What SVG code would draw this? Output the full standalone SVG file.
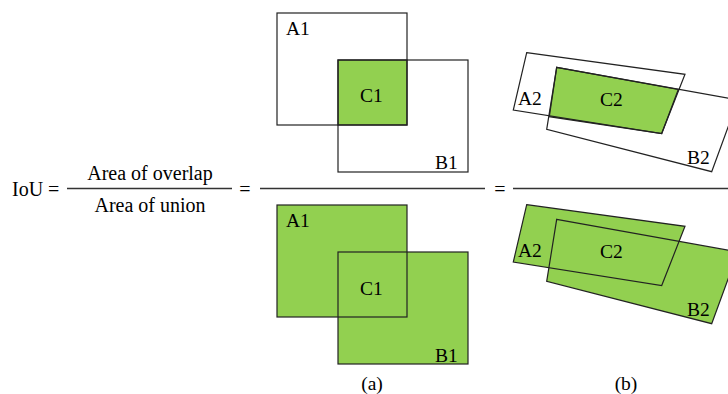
<svg xmlns="http://www.w3.org/2000/svg" width="728" height="394" viewBox="0 0 728 394">
<style>
text{font-family:"Liberation Serif","Times New Roman",serif;font-size:19.5px;fill:#000}
.eq{font-size:20px}
.line{stroke:#333;stroke-width:1.3;fill:none}
.g{fill:#92d050}
.o{fill:none;stroke:#222;stroke-width:1.2}
.gs{fill:#92d050;stroke:#222;stroke-width:1.2}
</style>
<g id="formula">
<text class="eq" x="12" y="196">IoU =</text>
<text class="eq" x="150" y="180" text-anchor="middle">Area of overlap</text>
<text class="eq" x="150" y="212" text-anchor="middle">Area of union</text>
<line class="line" x1="67" y1="188.5" x2="232" y2="188.5"/>
<text class="eq" x="245" y="196" text-anchor="middle">=</text>
<line class="line" x1="260" y1="188.5" x2="485" y2="188.5"/>
<text class="eq" x="500" y="196" text-anchor="middle">=</text>
<line class="line" x1="513" y1="188.5" x2="728" y2="188.5"/>
</g>
<g id="a-top">
<rect class="gs" x="338" y="60" width="69" height="65"/>
<rect class="o" x="277" y="13" width="130" height="112"/>
<rect class="o" x="338" y="60" width="130" height="112"/>
<text x="286" y="35">A1</text>
<text x="360" y="102">C1</text>
<text x="435" y="169">B1</text>
</g>
<g id="a-bottom">
<rect class="g" x="277" y="205" width="130" height="112"/>
<rect class="g" x="338" y="252" width="130" height="112"/>
<rect class="o" x="277" y="205" width="130" height="112"/>
<rect class="o" x="338" y="252" width="130" height="112"/>
<text x="286" y="227">A1</text>
<text x="360" y="295">C1</text>
<text x="435" y="362">B1</text>
<text x="372" y="390" text-anchor="middle">(a)</text>
</g>
<g id="b-top">
<polygon class="gs" points="556.7,67.3 678.3,89.5 661.7,133.5 549.3,116.7"/>
<polygon class="o" points="526.7,52.7 685,74.3 661.7,133.5 513.3,110"/>
<polygon class="o" points="556.7,67.3 738,100 711.7,171.7 546.7,129.3"/>
<text x="518" y="105">A2</text>
<text x="600" y="106">C2</text>
<text x="687" y="164">B2</text>
</g>
<g id="b-bottom">
<g transform="translate(0,152)">
<polygon class="g" points="526.7,52.7 685,74.3 661.7,133.5 513.3,110"/>
<polygon class="g" points="556.7,67.3 738,100 711.7,171.7 546.7,129.3"/>
<polygon class="o" points="526.7,52.7 685,74.3 661.7,133.5 513.3,110"/>
<polygon class="o" points="556.7,67.3 738,100 711.7,171.7 546.7,129.3"/>
<text x="518" y="105">A2</text>
<text x="600" y="106">C2</text>
<text x="687" y="164">B2</text>
</g>
<text x="626" y="390" text-anchor="middle">(b)</text>
</g>
</svg>
